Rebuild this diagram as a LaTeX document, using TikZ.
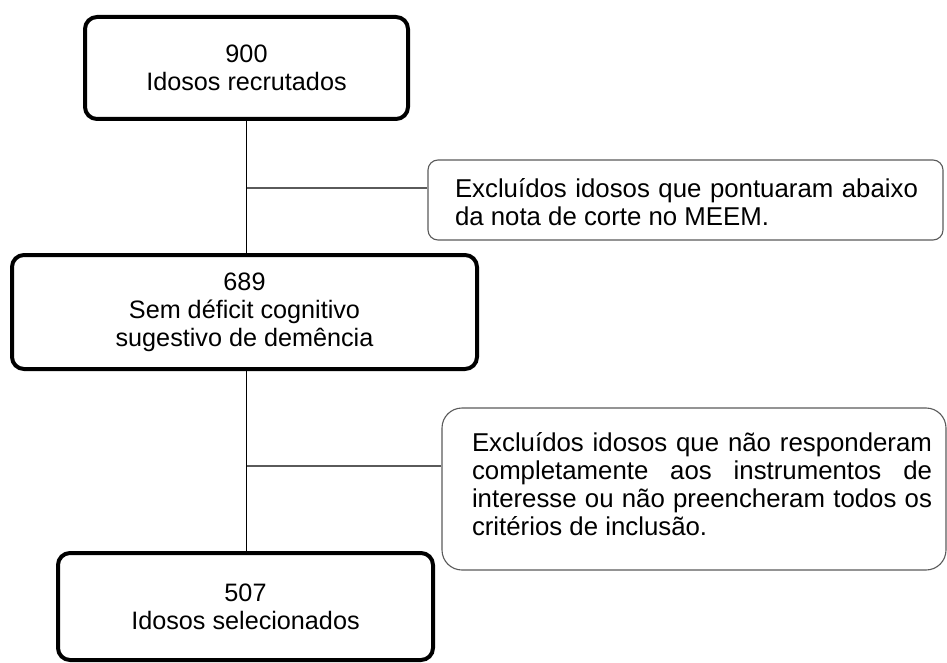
\documentclass[tikz,border=0pt]{standalone}
\usepackage{fontspec}
\setmainfont{Liberation Sans}
\definecolor{thin}{RGB}{90,90,90}
\begin{document}
\begin{tikzpicture}[x=1pt,y=-1pt,
  mainbox/.style={draw=black, line width=4pt, rounded corners=12pt, inner sep=0pt, align=center, font=\fontsize{25.2}{28}\selectfont},
  sidebox/.style={draw=thin, line width=1.1pt, inner sep=0pt},
  sidetext/.style={inner sep=0pt, align=justify, font=\fontsize{25.8}{28}\selectfont},
  conn/.style={line width=1.8pt, draw=black},
  branch/.style={line width=1.1pt, draw=thin}]
\useasboundingbox (0,0) rectangle (947,663);
% main boxes
\node[mainbox, minimum width=323pt, minimum height=102pt] (b1) at (246.5,68) {900\\Idosos recrutados};
\node[mainbox, minimum width=465pt, minimum height=114pt] (b2) at (244.5,312) {689\\Sem déficit cognitivo\\sugestivo de demência};
\node[mainbox, minimum width=375pt, minimum height=107pt] (b3) at (245.5,606.5) {507\\Idosos selecionados};
% side boxes
\node[sidebox, rounded corners=10pt, minimum width=515pt, minimum height=80pt] (s1) at (685.5,200) {};
\node[sidetext, text width=463pt] (t1) at (686.5,202) {\tolerance=10000 Excluídos idosos que pontuaram abaixo\linebreak da nota de corte no MEEM.};
\node[sidebox, rounded corners=20pt, minimum width=504pt, minimum height=162pt] (s2) at (694,489) {};
\node[sidetext, text width=460pt] (t2) at (702,484) {\tolerance=10000 Excluídos idosos que não responderam\linebreak completamente aos instrumentos de\linebreak interesse ou não preencheram todos os\linebreak critérios de inclusão.};
% spine
\draw[conn] (b1.south) -- (b1.south |- b2.north);
\draw[conn] (b1.south |- b2.south) -- (b1.south |- b3.north);
% branches
\coordinate (j1) at (246.5,188);
\coordinate (j2) at (246.5,466);
\draw[branch] (j1) -- (j1 -| s1.west);
\draw[branch] (j2) -- (j2 -| s2.west);
\end{tikzpicture}
\end{document}
